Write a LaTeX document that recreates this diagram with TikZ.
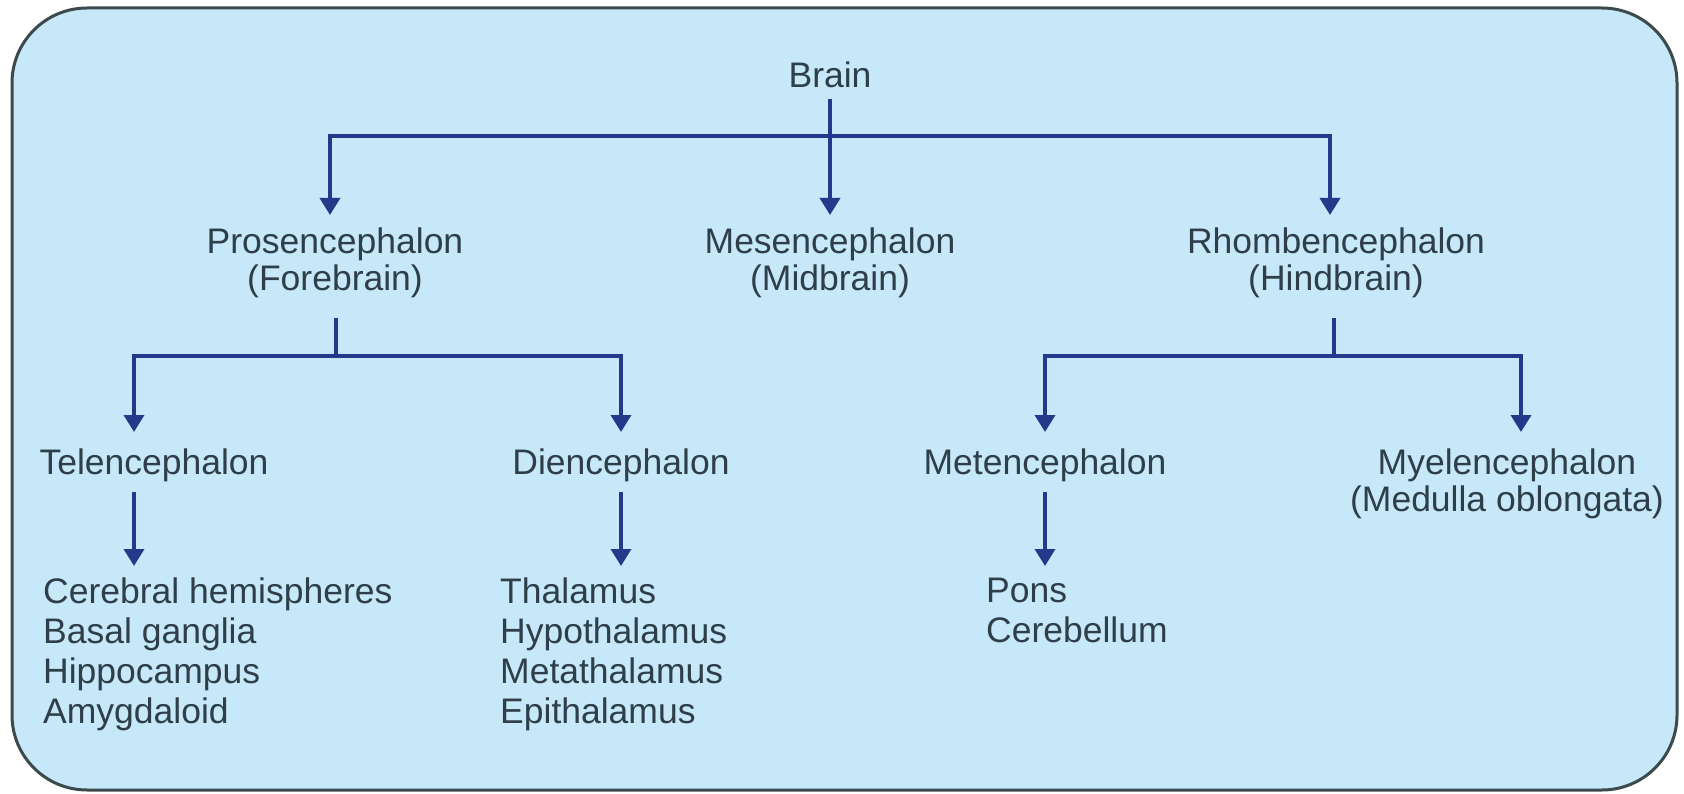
\documentclass[tikz,border=0pt]{standalone}
\usepackage{fontspec}
\setmainfont{Liberation Sans}
\usetikzlibrary{arrows.meta}
\definecolor{bg}{HTML}{C6E8F8}
\definecolor{frame}{HTML}{3C4A4E}
\definecolor{lnk}{HTML}{24398A}
\definecolor{txt}{HTML}{2F3F4A}
\begin{document}
\begin{tikzpicture}[x=1pt,y=-1pt,
  lbl/.style={font=\fontsize{35.5}{36.5}\selectfont, text=txt, inner sep=0pt, align=center},
  lvltwo/.style={lbl, anchor=north, inner ysep=13pt},
  lvlthree/.style={lbl, anchor=north, inner ysep=17pt, text depth=0pt},
  lvlthreeb/.style={lbl, anchor=north, inner ysep=17pt},
  listbox/.style={font=\fontsize{35.5}{40}\selectfont, text=txt, inner xsep=0pt, inner ysep=12pt, anchor=north west, align=left},
  conn/.style={draw=lnk, line width=3.6pt},
  arr/.style={conn, -{Triangle[width=20pt,length=17pt]}},
]
\useasboundingbox (0,0) rectangle (1684,794);
\fill[white] (0,0) rectangle (1684,794);
\draw[frame, fill=bg, line width=3pt, rounded corners=75pt] (12,8) rectangle (1677,790);

% nodes
\node[lbl, anchor=base] (brain) at (830,88) {Brain};
\node[lvltwo] (pro) at (335,215) {Prosencephalon\\(Forebrain)};
\node[lvltwo] (mes) at (830,215) {Mesencephalon\\(Midbrain)};
\node[lvltwo] (rho) at (1336,215) {Rhombencephalon\\(Hindbrain)};

\node[lvlthree] (tel) at (154,432) {Telencephalon};
\node[lvlthree] (die) at (621,432) {Diencephalon};
\node[lvlthree] (met) at (1045,432) {Metencephalon};
\node[lvlthreeb] (mye) at (1507,432) {Myelencephalon\\(Medulla oblongata)};

\node[listbox] (telL) at (43,566) {Cerebral hemispheres\\Basal ganglia\\Hippocampus\\Amygdaloid};
\node[listbox] (dieL) at (500,566) {Thalamus\\Hypothalamus\\Metathalamus\\Epithalamus};
\node[listbox] (metL) at (986,566) {Pons\\Cerebellum};

% helper coordinates
\coordinate (j1) at (830,136);
\coordinate (j2) at (336,356);
\coordinate (j3) at (1334,356);
\coordinate (ax1) at (134,0);
\coordinate (ax2) at (330,0);
\coordinate (ax3) at (1330,0);
\coordinate (ax4) at (1521,0);

% connectors
\draw[arr, shorten <=10pt] (brain.south) -- (mes.north);
\draw[arr] (j1) -| (pro.north -| ax2);
\draw[arr] (j1) -| (rho.north -| ax3);

\draw[conn, shorten <=7pt] (pro.south -| j2) -- (j2);
\draw[arr] (j2) -| (tel.north -| ax1);
\draw[arr] (j2) -| (die.north);

\draw[conn, shorten <=7pt] (rho.south -| j3) -- (j3);
\draw[arr] (j3) -| (met.north);
\draw[arr] (j3) -| (mye.north -| ax4);

\draw[arr] (tel.south -| ax1) -- (telL.north -| ax1);
\draw[arr] (die.south) -- (dieL.north -| die.south);
\draw[arr] (met.south) -- (metL.north -| met.south);
\end{tikzpicture}
\end{document}
